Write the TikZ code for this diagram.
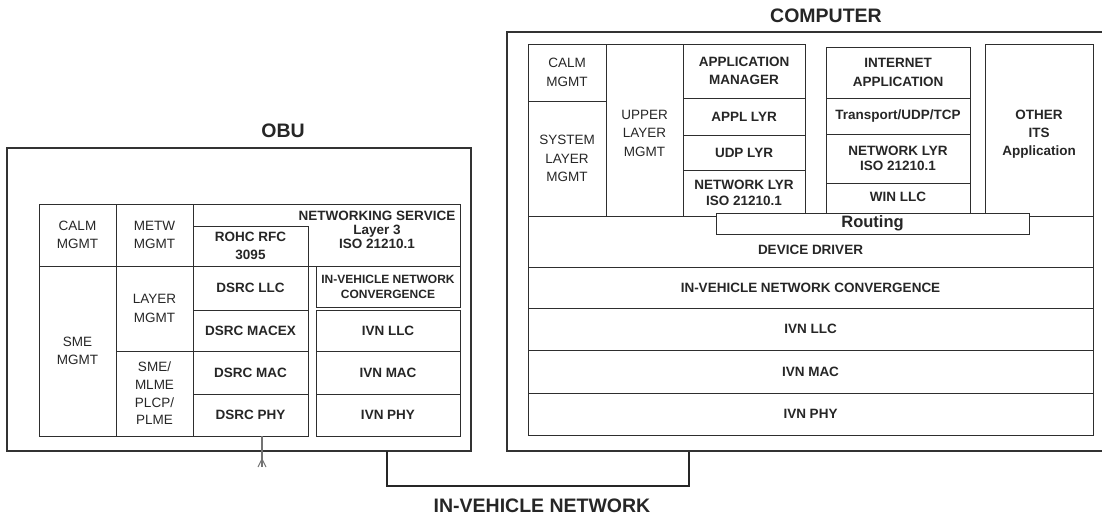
\documentclass[tikz,border=0pt]{standalone}
\usepackage{fontspec}
\setmainfont{Liberation Sans}
\tikzset{
  cellbox/.style={draw=black!82, line width=0.9pt, inner sep=0pt, align=center,
    font=\fontsize{13.5}{18.5}\selectfont\bfseries, text=black!85},
  reg/.style={font=\fontsize{13.5}{18.5}\selectfont},
  outerbox/.style={draw=black!80, line width=1.2pt, inner sep=0pt},
  titletext/.style={font=\fontsize{19.5}{22}\selectfont\bfseries, text=black!85, inner sep=0pt},
  celltext/.style={font=\fontsize{13.5}{14.3}\selectfont\bfseries, text=black!85, align=center, inner sep=0pt},
  ivnline/.style={draw=black!85, line width=2pt},
  antline/.style={draw=black!55, line width=1.2pt},
}
\newcommand\cellnode[7][]{\node[cellbox,#1,minimum width={(#5-#3)*1pt},minimum height={(#6-#4)*1pt}] (#2) at ({(#3+#5)/2},{(#4+#6)/2}) {#7};}
\begin{document}
\begin{tikzpicture}[x=1pt,y=-1pt]
\useasboundingbox (0,0) rectangle (1102,518);
% ---------- OBU ----------
\node[outerbox, minimum width=464pt, minimum height=303pt] (obu) at (239,299.5) {};
\node[titletext] (obut) at (283,131) {OBU};
\cellnode[reg]{calm1}{39}{204}{116}{266}{CALM\\MGMT}
\cellnode[reg]{metw}{116}{204}{193}{266}{METW\\MGMT}
\cellnode{netsvc}{193}{204}{460}{266}{}
\node[celltext] (netsvct) at (377,230) {NETWORKING SERVICE\\Layer 3\\ISO 21210.1};
\cellnode[font=\fontsize{13.5}{18}\selectfont\bfseries]{rohc}{193}{226}{308}{266}{ROHC RFC\\3095}
\cellnode[reg]{sme}{39}{266}{116}{436}{SME\\MGMT}
\cellnode[reg]{layer}{116}{266}{193}{351}{LAYER\\MGMT}
\cellnode[font=\fontsize{13.5}{17.7}\selectfont]{smemlme}{116}{351}{193}{436}{SME/\\MLME\\PLCP/\\PLME}
\cellnode{dllc}{193}{266}{308}{310}{DSRC LLC}
\cellnode{dmacex}{193}{310}{308}{351}{DSRC MACEX}
\cellnode{dmac}{193}{351}{308}{394}{DSRC MAC}
\cellnode{dphy}{193}{394}{308}{436}{DSRC PHY}
\cellnode[font=\fontsize{12}{15}\selectfont\bfseries]{ivnconv1}{316}{266}{460}{307}{IN-VEHICLE NETWORK\\CONVERGENCE}
\cellnode{ivnllc1}{316}{310}{460}{351}{IVN LLC}
\cellnode{ivnmac1}{316}{351}{460}{394}{IVN MAC}
\cellnode{ivnphy1}{316}{394}{460}{436}{IVN PHY}
% antenna
\coordinate (antTop) at (262,436);
\coordinate (antBot) at (262,467);
\draw[antline] (antTop) -- (antBot);
\draw[antline, line width=1pt] (antBot) ++(-4,0) -- ++(4,-8) -- ++(4,8);
% ---------- COMPUTER ----------
\node[outerbox, minimum width=596pt, minimum height=419pt] (comp) at (805,241.5) {};
\node[titletext] (compt) at (826,16) {COMPUTER};
\cellnode[reg]{calm2}{528}{44}{606}{101}{CALM\\MGMT}
\cellnode[reg]{sys}{528}{101}{606}{216}{SYSTEM\\LAYER\\MGMT}
\cellnode{upper}{606}{44}{683}{216}{}
\node[reg, text=black!85, align=center, inner sep=0pt] (uppert) at (644.5,133) {UPPER\\LAYER\\MGMT};
\cellnode{appmgr}{683}{44}{805}{98}{APPLICATION\\MANAGER}
\cellnode{appl}{683}{98}{805}{135}{APPL LYR}
\cellnode{udp}{683}{135}{805}{170}{UDP LYR}
\cellnode[font=\fontsize{13.5}{16}\selectfont\bfseries]{netlyr1}{683}{170}{805}{216}{NETWORK LYR\\ISO 21210.1}
\cellnode{inet}{826}{47}{970}{98}{INTERNET\\APPLICATION}
\cellnode{transp}{826}{98}{970}{134}{Transport/UDP/TCP}
\cellnode[font=\fontsize{13.5}{15.5}\selectfont\bfseries]{netlyr2}{826}{134}{970}{183}{NETWORK LYR\\ISO 21210.1}
\cellnode{winllc}{826}{183}{970}{216}{}
\node[celltext] (winllct) at (898,197) {WIN LLC};
\cellnode{other}{985}{44}{1093}{216}{}
\node[celltext, font=\fontsize{13.5}{18}\selectfont\bfseries] (othert) at (1039,134) {OTHER\\ITS\\Application};
\cellnode{devdrv}{528}{216}{1093}{267}{}
\node[celltext] (devdrvt) at (810.5,250) {DEVICE DRIVER};
\cellnode[fill=white, font=\fontsize{16.5}{18}\selectfont\bfseries]{routing}{716}{213}{1029}{234}{Routing}
\cellnode{ivnconv2}{528}{267}{1093}{308}{IN-VEHICLE NETWORK CONVERGENCE}
\cellnode{ivnllc2}{528}{308}{1093}{350}{IVN LLC}
\cellnode{ivnmac2}{528}{350}{1093}{393}{IVN MAC}
\cellnode{ivnphy2}{528}{393}{1093}{435}{IVN PHY}
% ---------- IN-VEHICLE NETWORK ----------
\coordinate (ivnA) at (386.5,451);
\coordinate (ivnB) at (689,452);
\draw[ivnline] (ivnA) -- ++(0,35) -| (ivnB);
\node[titletext] (ivncap) at (542,505.5) {IN-VEHICLE NETWORK};
\end{tikzpicture}
\end{document}
